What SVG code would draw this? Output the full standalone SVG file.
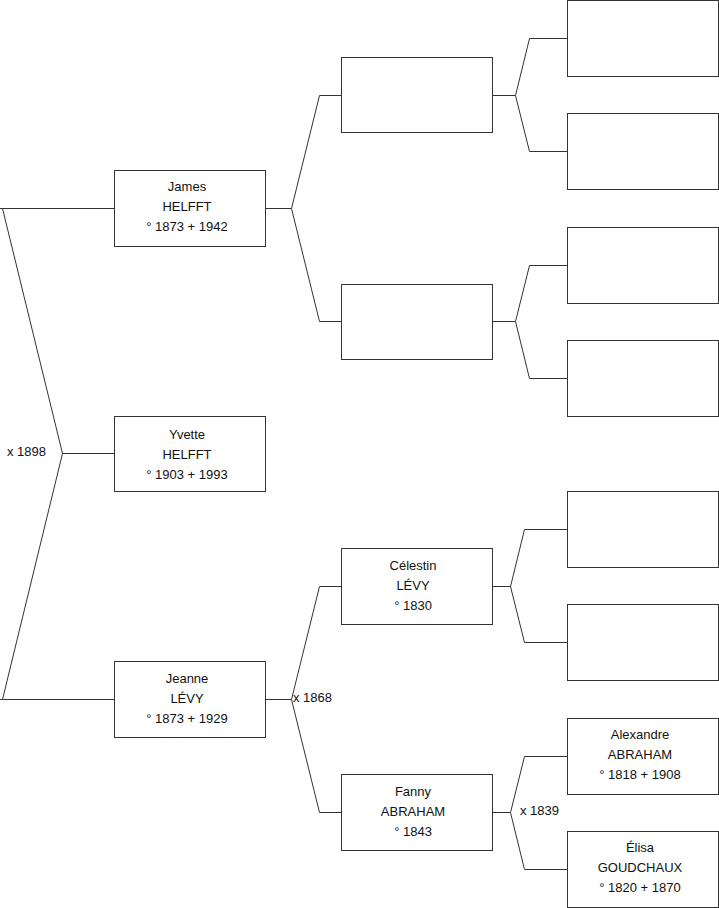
<svg xmlns="http://www.w3.org/2000/svg" width="719" height="908" viewBox="0 0 719 908">
<style>
.b{fill:#fff;stroke:#333;stroke-width:1}
.c{fill:none;stroke:#333;stroke-width:1}
text{font-family:"Liberation Sans",Arial,sans-serif;font-size:13px;fill:#111}
.m{text-anchor:middle}
</style>
<rect width="719" height="908" fill="#fff"/>
<g id="connectors">
<path class="c" d="M0,208.5H2.5L62.5,453.5L2.5,699.5H0M2.5,208.5H114.5M62.5,453.5H114.5M2.5,699.5H114.5"/>
<path class="c" d="M265.5,208.5H291.5L319.5,95.5H341.5M291.5,208.5L319.5,321.5H341.5"/>
<path class="c" d="M265.5,699.5H291.5L319.5,586.5H341.5M291.5,699.5L319.5,812.5H341.5"/>
<path class="c" d="M492.5,95.5H515.5L529.5,38.5H567.5M515.5,95.5L529.5,151.5H567.5"/>
<path class="c" d="M492.5,321.5H515.5L529.5,265.5H567.5M515.5,321.5L529.5,378.5H567.5"/>
<path class="c" d="M492.5,586.5H510.5L524.5,529.5H567.5M510.5,586.5L524.5,642.5H567.5"/>
<path class="c" d="M492.5,812.5H510.5L524.5,756.5H567.5M510.5,812.5L524.5,869.5H567.5"/>
<text x="7" y="456">x 1898</text>
<text x="293" y="702">x 1868</text>
<text x="520" y="815">x 1839</text>
</g>
<g id="james"><rect class="b" x="114.5" y="170.5" width="151" height="76"/>
<text class="m" x="187" y="191">James</text><text class="m" x="187" y="211">HELFFT</text><text class="m" x="187" y="231">° 1873 + 1942</text></g>
<g id="yvette"><rect class="b" x="114.5" y="416.5" width="151" height="75"/>
<text class="m" x="187" y="438.5">Yvette</text><text class="m" x="187" y="458.5">HELFFT</text><text class="m" x="187" y="478.5">° 1903 + 1993</text></g>
<g id="jeanne"><rect class="b" x="114.5" y="661.5" width="151" height="76"/>
<text class="m" x="187" y="683">Jeanne</text><text class="m" x="187" y="703">LÉVY</text><text class="m" x="187" y="723">° 1873 + 1929</text></g>
<g id="p1"><rect class="b" x="341.5" y="57.5" width="151" height="75"/></g>
<g id="p2"><rect class="b" x="341.5" y="284.5" width="151" height="75"/></g>
<g id="celestin"><rect class="b" x="341.5" y="548.5" width="151" height="76"/>
<text class="m" x="413" y="569.5">Célestin</text><text class="m" x="413" y="589.5">LÉVY</text><text class="m" x="413" y="609.5">° 1830</text></g>
<g id="fanny"><rect class="b" x="341.5" y="774.5" width="151" height="76"/>
<text class="m" x="413" y="795.5">Fanny</text><text class="m" x="413" y="815.5">ABRAHAM</text><text class="m" x="413" y="835.5">° 1843</text></g>
<g id="g1"><rect class="b" x="567.5" y="0.5" width="151" height="76"/></g>
<g id="g2"><rect class="b" x="567.5" y="113.5" width="151" height="76"/></g>
<g id="g3"><rect class="b" x="567.5" y="227.5" width="151" height="76"/></g>
<g id="g4"><rect class="b" x="567.5" y="340.5" width="151" height="76"/></g>
<g id="g5"><rect class="b" x="567.5" y="491.5" width="151" height="76"/></g>
<g id="g6"><rect class="b" x="567.5" y="604.5" width="151" height="76"/></g>
<g id="alexandre"><rect class="b" x="567.5" y="718.5" width="151" height="76"/>
<text class="m" x="640" y="738.5">Alexandre</text><text class="m" x="640" y="758.5">ABRAHAM</text><text class="m" x="640" y="778.5">° 1818 + 1908</text></g>
<g id="elisa"><rect class="b" x="567.5" y="831.5" width="151" height="76"/>
<text class="m" x="640" y="852">Élisa</text><text class="m" x="640" y="872">GOUDCHAUX</text><text class="m" x="640" y="892">° 1820 + 1870</text></g>
</svg>
